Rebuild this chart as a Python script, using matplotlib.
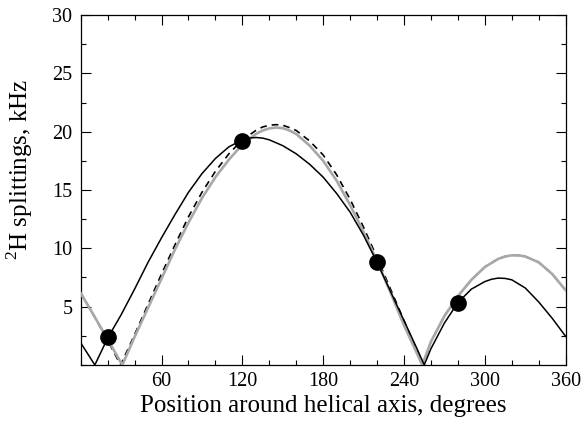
import matplotlib
matplotlib.use('Agg')
import matplotlib.pyplot as plt
from matplotlib.ticker import MultipleLocator

plt.rcParams['font.family'] = ['Liberation Serif', 'DejaVu Serif']
plt.rcParams['mathtext.fontset'] = 'custom'
plt.rcParams['mathtext.rm'] = 'Liberation Serif'

# black solid curve
black_x = [0, 10.5, 20, 30, 40, 50, 60, 70, 80, 90, 100, 110, 120, 125, 130, 135, 140, 150, 160, 170, 180,
           190, 200, 210, 220, 230, 240, 250, 255, 260, 270, 280, 290, 300, 305, 310, 315, 320, 330, 340, 350, 360]
black_y = [1.9, 0.0, 2.3, 4.3, 6.5, 8.8, 10.9, 12.9, 14.8, 16.4, 17.7, 18.7, 19.3, 19.45, 19.5, 19.45, 19.3, 18.8,
           18.1, 17.2, 16.1, 14.7, 13.1, 11.1, 8.8, 6.3, 3.8, 1.3, 0.0, 1.4, 3.6, 5.35, 6.5, 7.15, 7.35,
           7.45, 7.42, 7.3, 6.6, 5.4, 4.0, 2.45]

# grey solid curve
grey_x = [0, 10, 20, 30.9, 40, 50, 60, 70, 80, 90, 100, 110, 120, 130, 135, 140, 145, 150, 155, 160, 170, 180,
          190, 200, 210, 220, 230, 240, 250, 253.5, 260, 270, 280, 290, 300, 310, 315, 320, 325, 330, 340, 350, 360]
grey_y = [6.15, 4.2, 2.2, 0.0, 2.4, 4.9, 7.4, 9.9, 12.2, 14.3, 16.1, 17.6, 18.9, 19.8, 20.1, 20.28, 20.35,
          20.3, 20.1, 19.8, 18.8, 17.5, 15.8, 13.7, 11.4, 8.9, 6.2, 3.4, 0.9, 0.0, 2.0, 4.2, 5.9, 7.3,
          8.4, 9.1, 9.3, 9.4, 9.4, 9.3, 8.8, 7.8, 6.4]

# dashed curve
dash_x = [0, 10, 20, 29.7, 40, 50, 60, 70, 80, 90, 100, 110, 120, 130, 135, 140, 145, 150, 155, 160, 170, 180,
          190, 200, 210, 220, 230, 240, 250, 254, 260, 270, 280, 290, 300, 310, 315, 320, 325, 330, 340, 350, 360]
dash_y = [6.2, 4.2, 2.1, 0.0, 2.6, 5.2, 7.8, 10.3, 12.7, 14.8, 16.6, 18.1, 19.3, 20.1, 20.4, 20.55, 20.6,
          20.55, 20.35, 20.1, 19.2, 18.0, 16.3, 14.2, 11.8, 9.2, 6.5, 3.8, 1.1, 0.0, 2.0, 4.2, 5.9, 7.3,
          8.4, 9.1, 9.3, 9.4, 9.4, 9.3, 8.8, 7.8, 6.4]

# measured points
dots_x = [20, 120, 220, 280]
dots_y = [2.4, 19.2, 8.8, 5.35]

fig = plt.figure(figsize=(5.83, 4.24), dpi=100)
ax = fig.add_axes([0.1384, 0.1392, 0.8319, 0.8254])

ax.plot(dash_x, dash_y, color='black', lw=1.2, ls=(0, (4, 3)), zorder=2)
ax.plot(grey_x, grey_y, color='#a8a8a8', lw=1.9, zorder=3)
ax.plot(black_x, black_y, color='black', lw=1.1, zorder=4)
ax.plot(dots_x, dots_y, 'o', color='black', ms=11, zorder=5)

ax.set_xlim(0, 360)
ax.set_ylim(0, 30)
ax.set_xticks([60, 120, 180, 240, 300, 360])
ax.set_yticks([5, 10, 15, 20, 25, 30])
ax.xaxis.set_minor_locator(MultipleLocator(20))
ax.yaxis.set_minor_locator(MultipleLocator(2.5))
ax.tick_params(which='both', direction='in', top=True, right=True, width=0.8, labelsize=14.5)
ax.tick_params(which='major', length=7)
ax.tick_params(which='minor', length=3.6)
ax.tick_params(axis='y', pad=6)
ax.tick_params(axis='x', pad=5)
for s in ax.spines.values():
    s.set_linewidth(0.9)

ax.set_xlabel('Position around helical axis, degrees', fontsize=18, labelpad=3)
ax.set_ylabel(r'$^{2}$H splittings, kHz', fontsize=18)
ax.yaxis.set_label_coords(-0.095, 0.56)

fig.savefig('out.png', dpi=100)
